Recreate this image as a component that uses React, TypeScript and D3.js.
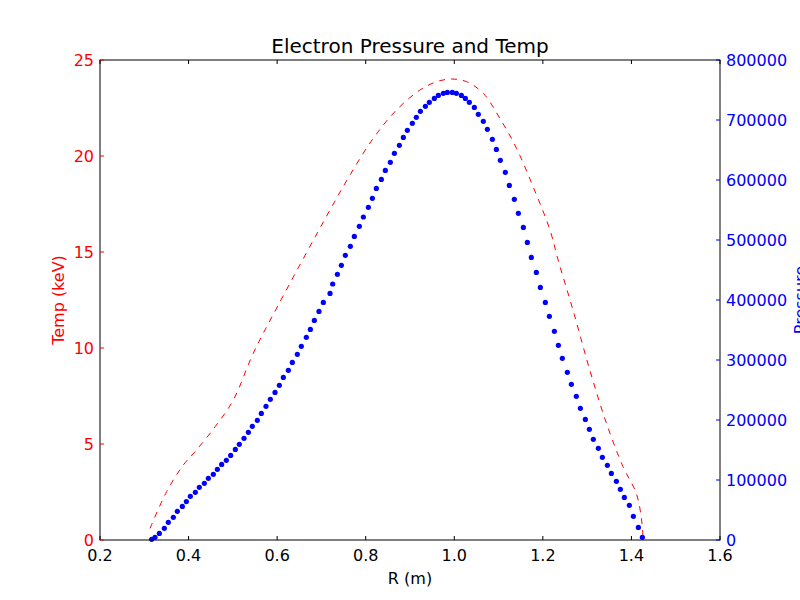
import React from 'react';
import * as d3 from 'd3';

// Electron temperature (keV) vs R (m)
const tempR = [0.313, 0.3505, 0.388, 0.418, 0.46, 0.501, 0.546, 0.6026, 0.7194, 0.7645, 0.817, 0.8697, 0.9226, 0.96, 0.994, 1.028, 1.0656, 1.103, 1.1405, 1.178, 1.216, 1.2345, 1.268, 1.306, 1.3436, 1.381, 1.411, 1.4225, 1.426];
const tempKeV = [0.6, 2.52, 3.9, 4.69, 5.9, 7.29, 9.72, 12.24, 17.19, 19.01, 20.92, 22.4, 23.44, 23.87, 24.01, 23.87, 23.26, 21.96, 20.4, 18.4, 16.15, 14.58, 11.98, 8.85, 6.08, 3.82, 2.43, 1.13, 0.2];

// Pressure samples vs R (m)
const presR = [0.3167, 0.3242, 0.334, 0.3453, 0.3543, 0.3656, 0.3746, 0.3859, 0.395, 0.404, 0.4153, 0.4243, 0.4356, 0.4446, 0.4559, 0.465, 0.4747, 0.4853, 0.495, 0.5056, 0.5146, 0.5252, 0.535, 0.544, 0.5553, 0.5643, 0.5748, 0.5846, 0.5952, 0.605, 0.614, 0.6253, 0.6343, 0.6456, 0.6546, 0.6659, 0.675, 0.684, 0.6945, 0.7043, 0.7194, 0.7254, 0.736, 0.745, 0.754, 0.7653, 0.7743, 0.7856, 0.7947, 0.806, 0.815, 0.824, 0.8353, 0.8443, 0.8556, 0.8647, 0.876, 0.885, 0.894, 0.9053, 0.9143, 0.9234, 0.9347, 0.9437, 0.955, 0.964, 0.9753, 0.9843, 0.9956, 1.0047, 1.016, 1.025, 1.034, 1.0453, 1.0543, 1.0656, 1.0747, 1.086, 1.095, 1.104, 1.1153, 1.1243, 1.1356, 1.1447, 1.156, 1.165, 1.174, 1.1853, 1.1943, 1.2056, 1.2147, 1.226, 1.235, 1.244, 1.2553, 1.2644, 1.2756, 1.2847, 1.296, 1.305, 1.314, 1.3253, 1.3344, 1.3457, 1.3547, 1.366, 1.375, 1.384, 1.3953, 1.4044, 1.4157, 1.4247];
const pressure = [1100, 4400, 11000, 19400, 29400, 37800, 47800, 56000, 64000, 72800, 79400, 87800, 94400, 102800, 109400, 117800, 126000, 132800, 141000, 151000, 159400, 169400, 179400, 189400, 199400, 211000, 222800, 234400, 246000, 257800, 271000, 282800, 296000, 309400, 322800, 337800, 351000, 366000, 381000, 396000, 411000, 426700, 442800, 457800, 474400, 489400, 506000, 522800, 538300, 554400, 569400, 586000, 601000, 616000, 629400, 644400, 657800, 671000, 682800, 694400, 704400, 714400, 722800, 729400, 736000, 741000, 744400, 746000, 746000, 744400, 741000, 736000, 729400, 721000, 709400, 697800, 684400, 667800, 651000, 632800, 612800, 591000, 567800, 544400, 521000, 496000, 471000, 446000, 421000, 396000, 372800, 347800, 324400, 302800, 279400, 259400, 239400, 219400, 201000, 184400, 167800, 152800, 137800, 124400, 111000, 97800, 84400, 71000, 57800, 39400, 21000, 4400];

const xTicks = [0.2, 0.4, 0.6, 0.8, 1.0, 1.2, 1.4, 1.6];
const tempTicks = [0, 5, 10, 15, 20, 25];
const presTicks = [0, 100000, 200000, 300000, 400000, 500000, 600000, 700000, 800000];

const W = 800, H = 600;
const m = { left: 100, right: 80, top: 60, bottom: 60 };
const font = 'DejaVu Sans, sans-serif';

export default function App() {
  const x = d3.scaleLinear().domain([0.2, 1.6]).range([m.left, W - m.right]);
  const yT = d3.scaleLinear().domain([0, 25]).range([H - m.bottom, m.top]);
  const yP = d3.scaleLinear().domain([0, 800000]).range([H - m.bottom, m.top]);
  const line = d3.line<number>().x((_, i) => x(tempR[i])).y(d => yT(d)).curve(d3.curveCatmullRom);
  const x0 = m.left, x1 = W - m.right, y0 = H - m.bottom, y1 = m.top;

  return (
    <svg width={W} height={H} style={{ position: 'absolute', left: 0, top: 0, background: '#fff' }} fontFamily={font}>
      <path d={line(tempKeV) || ''} fill="none" stroke="red" strokeWidth={1} strokeDasharray="6,6" />
      {presR.map((r, i) => (
        <circle key={i} cx={x(r)} cy={yP(pressure[i])} r={2.6} fill="blue" />
      ))}
      <rect x={x0} y={y1} width={x1 - x0} height={y0 - y1} fill="none" stroke="black" strokeWidth={1} />
      {xTicks.map(t => (
        <g key={t}>
          <line x1={x(t)} x2={x(t)} y1={y0} y2={y0 - 4} stroke="black" />
          <line x1={x(t)} x2={x(t)} y1={y1} y2={y1 + 4} stroke="black" />
          <text x={x(t)} y={y0 + 21} textAnchor="middle" fontSize={16}>{t.toFixed(1)}</text>
        </g>
      ))}
      {tempTicks.map(t => (
        <g key={t}>
          <line x1={x0} x2={x0 + 4} y1={yT(t)} y2={yT(t)} stroke="red" />
          <text x={x0 - 6} y={yT(t) + 6} textAnchor="end" fontSize={16} fill="red">{t}</text>
        </g>
      ))}
      {presTicks.map(t => (
        <g key={t}>
          <line x1={x1} x2={x1 - 4} y1={yP(t)} y2={yP(t)} stroke="blue" />
          <text x={x1 + 6} y={yP(t) + 6} textAnchor="start" fontSize={16} fill="blue">{t}</text>
        </g>
      ))}
      <text x={(x0 + x1) / 2} y={y1 - 7} textAnchor="middle" fontSize={20}>Electron Pressure and Temp</text>
      <text x={(x0 + x1) / 2} y={y0 + 44} textAnchor="middle" fontSize={16}>R (m)</text>
      <text transform={`translate(64,${(y0 + y1) / 2}) rotate(-90)`} textAnchor="middle" fontSize={16} fill="red">Temp (keV)</text>
      <text transform={`translate(806,${(y0 + y1) / 2}) rotate(-90)`} textAnchor="middle" fontSize={16} fill="blue">Pressure</text>
    </svg>
  );
}
